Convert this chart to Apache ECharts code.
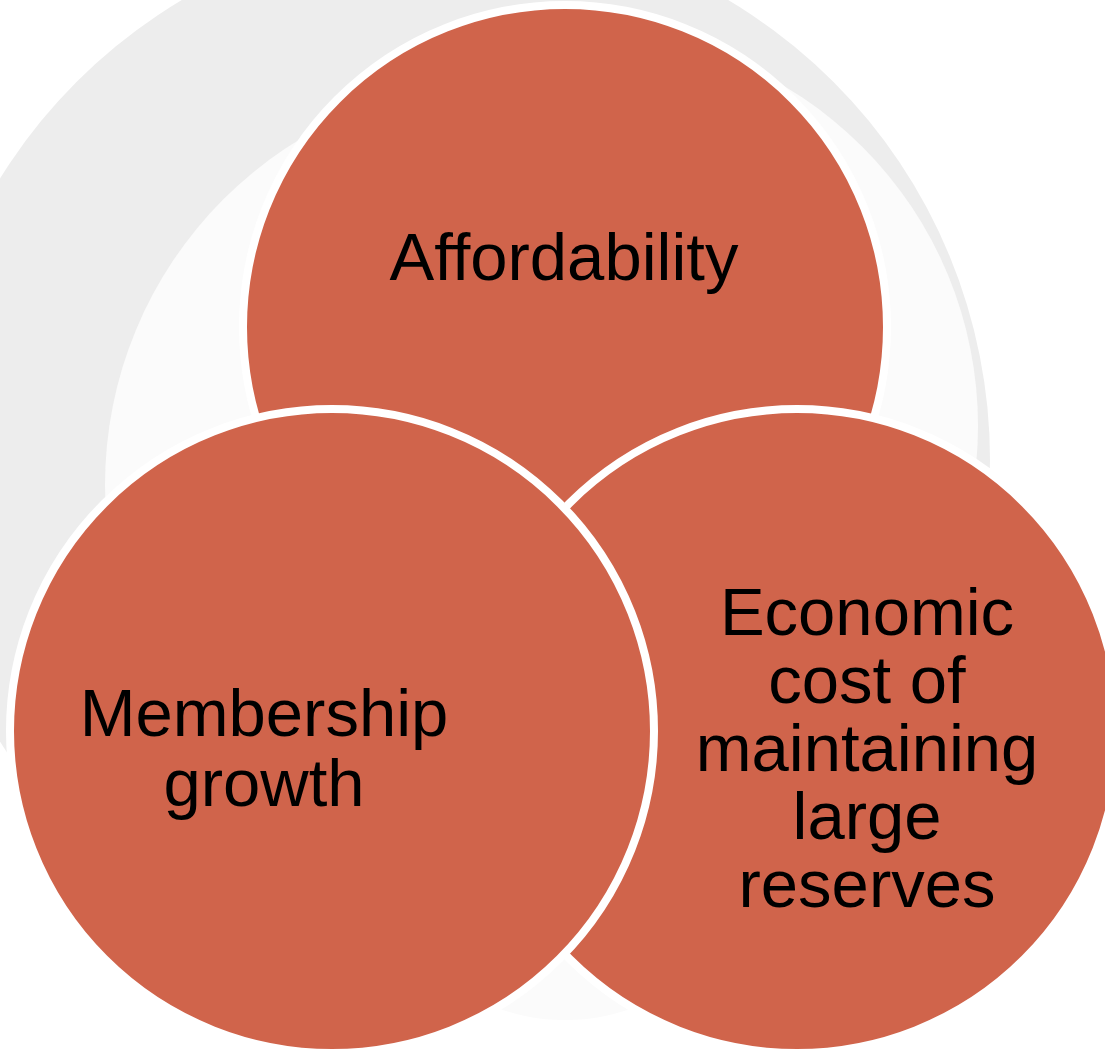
<!DOCTYPE html>
<html>
<head>
<meta charset="utf-8">
<script src="https://cdn.jsdelivr.net/npm/echarts@6/dist/echarts.min.js"></script>
<style>
  html, body { margin: 0; padding: 0; background: #ffffff; }
  #chart { width: 1105px; height: 1050px; }
</style>
</head>
<body>
<div id="chart"></div>
<script>
// Three overlapping sets (Venn layout), in diagram units.
const setLabels = ['Affordability', 'Membership\ngrowth', 'Economic\ncost of\nmaintaining\nlarge\nreserves'];
const setCenterX = [5.65, 3.32, 7.97];
const setCenterY = [7.23, 3.19, 3.19];
const setRadius = [3.22, 3.22, 3.22];

// Soft shadow discs behind the sets (grey halo, then pale overlays).
const backdropX = [4.55, 5.09, 5.83, 5.65];
const backdropY = [5.90, 5.65, 6.24, 2.30];
const backdropR = [5.35, 4.04, 3.95, 2.00];

const SET_FILL = '#D0644B';
const BACKDROP_FILLS = ['#EDEDED', '#FBFBFB', '#FBFBFB', '#FBFBFB'];
const DRAW_ORDER = [0, 2, 1];           // top set first, left set last
const LABEL_OFFSETS = [[-1, -65], [-68, 22], [70, 22]];
const LABEL_LINE_HEIGHTS = [70, 70, 68];

const backdropData = backdropX.map((x, i) => [x, backdropY[i], backdropR[i], i]);
const setData = DRAW_ORDER.map(i => [setCenterX[i], setCenterY[i], setRadius[i], i]);

function discRenderer(fillFor, strokeFor) {
  return function (params, api) {
    const c = api.coord([api.value(0), api.value(1)]);
    const r = api.size([api.value(2), 0])[0];
    const idx = api.value(3);
    const stroke = strokeFor(idx);
    return {
      type: 'circle',
      shape: { cx: c[0], cy: c[1], r: r },
      style: {
        fill: fillFor(idx),
        stroke: stroke ? stroke.color : null,
        lineWidth: stroke ? stroke.width : 0
      }
    };
  };
}

const chart = echarts.init(document.getElementById('chart'), null, { renderer: 'canvas' });
chart.setOption({
  backgroundColor: '#ffffff',
  animation: false,
  grid: { left: 0, right: 0, top: 0, bottom: 0 },
  xAxis: { type: 'value', min: 0, max: 11.05, show: false },
  yAxis: { type: 'value', min: 0, max: 10.5, show: false },
  series: [
    {
      type: 'custom',
      clip: false,
      silent: true,
      z: 1,
      data: backdropData,
      renderItem: discRenderer(i => BACKDROP_FILLS[i], () => null)
    },
    {
      type: 'custom',
      clip: false,
      silent: true,
      z: 2,
      data: setData,
      renderItem: discRenderer(() => SET_FILL, () => ({ color: '#ffffff', width: 8 }))
    },
    {
      type: 'custom',
      clip: false,
      silent: true,
      z: 3,
      data: setData,
      renderItem: function (params, api) {
        const c = api.coord([api.value(0), api.value(1)]);
        const idx = api.value(3);
        const off = LABEL_OFFSETS[idx];
        return {
          type: 'text',
          x: c[0] + off[0],
          y: c[1] + off[1],
          style: {
            text: setLabels[idx],
            fill: '#000000',
            fontSize: 67,
            fontFamily: '"Liberation Sans", Arial, sans-serif',
            lineHeight: LABEL_LINE_HEIGHTS[idx],
            align: 'center',
            verticalAlign: 'middle'
          }
        };
      }
    }
  ]
});
</script>
</body>
</html>
